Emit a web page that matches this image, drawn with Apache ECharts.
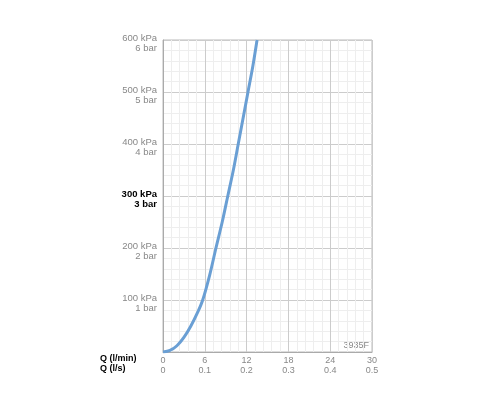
<!DOCTYPE html>
<html>
<head>
<meta charset="utf-8">
<script src="https://cdn.jsdelivr.net/npm/echarts@6/dist/echarts.min.js"></script>
<style>html,body{margin:0;padding:0;background:#fff}#chart{width:500px;height:400px}</style>
</head>
<body>
<div id="chart"></div>
<script>
// flow (l/min) vs pressure (kPa)
var flowLmin = [0, 1, 2, 3, 4, 5, 5.7, 6.7, 7.6, 8.5, 9.3, 10.1, 10.8, 11.5, 12.2, 12.9, 13.5];
var pressureKpa = [0, 3, 12, 28, 50, 77, 100, 148, 200, 250, 300, 350, 400, 450, 500, 550, 600];
var flowLsTicks = ['0', '0.1', '0.2', '0.3', '0.4', '0.5'];

var chart = echarts.init(document.getElementById('chart'));

var points = flowLmin.map(function (q, i) { return [q, pressureKpa[i]]; });

chart.setOption({
  backgroundColor: '#ffffff',
  animation: false,
  grid: { left: 163, right: 128, top: 40, bottom: 48, show: true, borderColor: '#bbb', borderWidth: 1 },
  xAxis: [{
    type: 'value', min: 0, max: 30, interval: 6,
    axisLine: { show: true, lineStyle: { color: '#aaa' } },
    axisTick: { show: false },
    axisLabel: { color: '#888', fontSize: 9, margin: 4, fontFamily: 'Liberation Sans' },
    splitLine: { lineStyle: { color: '#ccc' } },
    minorTick: { show: false, splitNumber: 5 },
    minorSplitLine: { show: true, lineStyle: { color: '#eee' } }
  }, {
    type: 'value', min: 0, max: 30, interval: 6, position: 'bottom', offset: 10,
    axisLine: { show: false }, axisTick: { show: false }, splitLine: { show: false },
    axisLabel: { color: '#888', fontSize: 9, margin: 4, fontFamily: 'Liberation Sans',
      formatter: function (v) { return flowLsTicks[Math.round(v / 6)]; } }
  }],
  yAxis: {
    type: 'value', min: 0, max: 600, interval: 100,
    axisLine: { show: true, lineStyle: { color: '#aaa' } },
    axisTick: { show: false },
    splitLine: { lineStyle: { color: '#ccc' } },
    minorTick: { show: false, splitNumber: 5 },
    minorSplitLine: { show: true, lineStyle: { color: '#eee' } },
    axisLabel: {
      margin: 6, fontFamily: 'Liberation Sans', lineHeight: 10, padding: [7, 0, 0, 0],
      formatter: function (v) {
        if (v === 0) return '';
        return v === 300 ? '{b|' + v + ' kPa}\n{b|' + (v / 100) + ' bar}' : '{n|' + v + ' kPa}\n{n|' + (v / 100) + ' bar}';
      },
      rich: {
        n: { color: '#888', fontSize: 9.5, lineHeight: 10, align: 'right' },
        b: { color: '#000', fontSize: 9.5, fontWeight: 'bold', lineHeight: 10, align: 'right' }
      }
    }
  },
  graphic: [
    { type: 'text', left: 100, top: 354, style: { text: 'Q (l/min)', font: 'bold 9px Liberation Sans', fill: '#000' } },
    { type: 'text', left: 100, top: 364, style: { text: 'Q (l/s)', font: 'bold 9px Liberation Sans', fill: '#000' } },
    { type: 'text', right: 131, top: 341, style: { text: '3935F', font: '9px Liberation Sans', fill: '#888', textAlign: 'right' } }
  ],
  series: [{
    type: 'line', data: points, smooth: 0.3, showSymbol: false, clip: true,
    lineStyle: { color: '#6a9fd4', width: 3 }
  }]
});
</script>
</body>
</html>
